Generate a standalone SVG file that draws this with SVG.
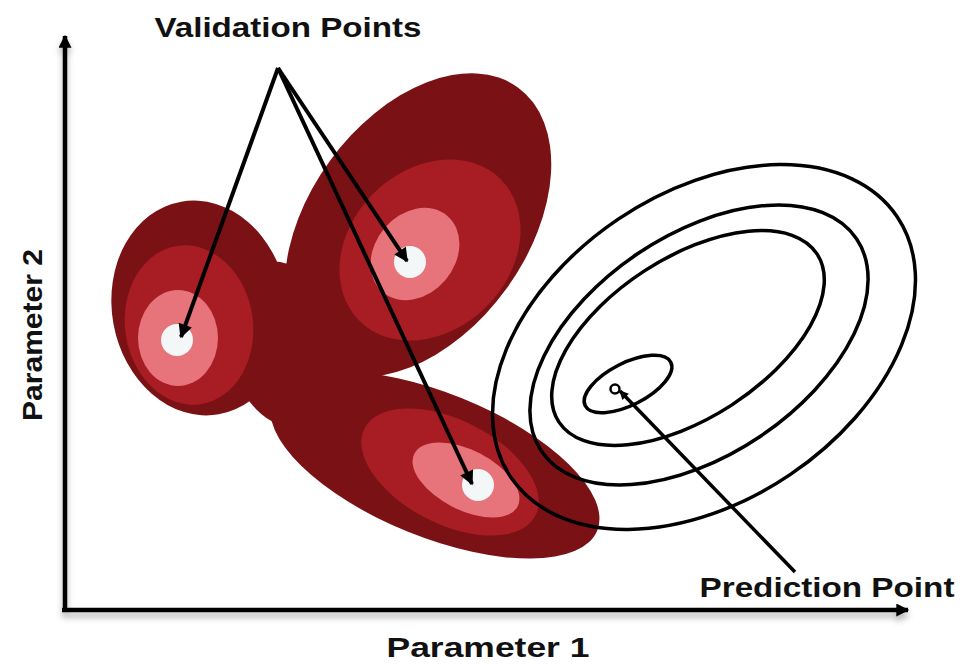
<svg xmlns="http://www.w3.org/2000/svg" width="960" height="666" viewBox="0 0 960 666">
<defs>
<style>
.lbl{font-family:"Liberation Sans",Arial,sans-serif;font-weight:bold;font-size:28px;fill:#111}
.dark{fill:#7a1114}
.mid{fill:#a81d24}
.pink{fill:#e8747b}
.core{fill:#f3f7f7}
.ctr{fill:none;stroke:#000;stroke-width:3.5}
.arr{stroke:#000;stroke-width:4;fill:none}
.axis{stroke:#000;stroke-width:4.5;fill:none}
</style>
<marker id="ah" viewBox="0 0 10 10" refX="9" refY="5" markerWidth="18" markerHeight="14" markerUnits="userSpaceOnUse" orient="auto"><path d="M0,0 L10,5 L0,10 Z" fill="#000"/></marker>
<marker id="axh" viewBox="0 0 10 10" refX="9" refY="5" markerWidth="14" markerHeight="13" markerUnits="userSpaceOnUse" orient="auto"><path d="M0,0 L10,5 L0,10 Z" fill="#000"/></marker>
<marker id="sh" viewBox="0 0 10 10" refX="9" refY="5" markerWidth="10" markerHeight="9" markerUnits="userSpaceOnUse" orient="auto"><path d="M0,0 L10,5 L0,10 Z" fill="#000"/></marker>
<filter id="shadow" x="-5%" y="-50%" width="110%" height="300%"><feDropShadow dx="0" dy="5" stdDeviation="3" flood-color="#000" flood-opacity="0.3"/></filter>
</defs>

<g id="axes" filter="url(#shadow)">
<line class="axis" x1="65" y1="612" x2="65" y2="36" marker-end="url(#axh)"/>
<line class="axis" x1="62" y1="610" x2="908" y2="610" marker-end="url(#axh)"/>
</g>

<g id="cluster-dark">
<ellipse class="dark" cx="200" cy="308" rx="88" ry="108" transform="rotate(-10 200 308)"/>
<ellipse class="dark" cx="418" cy="225" rx="170" ry="109" transform="rotate(-54 418 225)"/>
<ellipse class="dark" cx="435" cy="465" rx="175" ry="72" transform="rotate(22 435 465)"/>
<ellipse class="dark" cx="285" cy="345" rx="58" ry="85" transform="rotate(-15 285 345)"/>
</g>

<g id="validation-left">
<ellipse class="mid" cx="189" cy="325" rx="64" ry="80" transform="rotate(-8 189 325)"/>
<ellipse class="pink" cx="178" cy="338" rx="40" ry="48"/>
<circle class="core" cx="177" cy="340" r="16"/>
</g>

<g id="validation-top">
<ellipse class="mid" cx="430" cy="250" rx="100" ry="80" transform="rotate(-45 430 250)"/>
<ellipse class="pink" cx="415" cy="254" rx="50" ry="40" transform="rotate(-50 415 254)"/>
<circle class="core" cx="410" cy="262" r="16"/>
</g>

<g id="validation-bottom">
<ellipse class="mid" cx="450" cy="472" rx="96" ry="52" transform="rotate(27 450 472)"/>
<ellipse class="pink" cx="466" cy="480" rx="58" ry="30" transform="rotate(27 466 480)"/>
<circle class="core" cx="478" cy="485" r="16"/>
</g>

<g id="prediction">
<ellipse class="ctr" cx="704" cy="347" rx="233" ry="154" transform="rotate(-34 704 347)"/>
<ellipse class="ctr" cx="699" cy="345" rx="190" ry="110" transform="rotate(-34 699 345)"/>
<ellipse class="ctr" cx="688" cy="338" rx="154" ry="80" transform="rotate(-33 688 338)"/>
<ellipse class="ctr" cx="628" cy="384" rx="48" ry="21" transform="rotate(-27 628 384)"/>
<circle cx="615" cy="389" r="4.5" fill="none" stroke="#000" stroke-width="2.5"/>
</g>

<g id="connectors">
<line class="arr" x1="278" y1="68" x2="181" y2="337" marker-end="url(#ah)"/>
<line class="arr" x1="278" y1="68" x2="407" y2="261" marker-end="url(#ah)"/>
<line class="arr" x1="278" y1="68" x2="472" y2="484" marker-end="url(#ah)"/>
<line x1="795" y1="572" x2="620" y2="391" stroke="#000" stroke-width="3.5" marker-end="url(#sh)"/>
</g>

<g id="labels">
<text class="lbl" x="288" y="37" text-anchor="middle" textLength="267" lengthAdjust="spacingAndGlyphs">Validation Points</text>
<text class="lbl" x="488" y="657" text-anchor="middle" textLength="203" lengthAdjust="spacingAndGlyphs">Parameter 1</text>
<text class="lbl" x="827" y="597" text-anchor="middle" textLength="255" lengthAdjust="spacingAndGlyphs">Prediction Point</text>
<text class="lbl" transform="translate(42,335) rotate(-90)" text-anchor="middle" textLength="172" lengthAdjust="spacingAndGlyphs">Parameter 2</text>
</g>
</svg>
